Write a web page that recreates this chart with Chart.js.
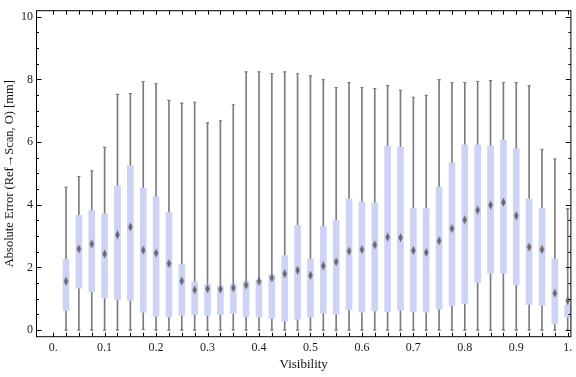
<!DOCTYPE html>
<html>
<head>
<meta charset="utf-8">
<script src="https://cdn.jsdelivr.net/npm/chart.js@4.4.1/dist/chart.umd.min.js"></script>
<style>
  html, body { margin: 0; padding: 0; background: #ffffff; }
  #wrap { width: 576px; height: 377px; position: relative; }
</style>
</head>
<body>
<div id="wrap"><canvas id="c" width="576" height="377"></canvas></div>
<script>
// ---- data ----
const visibility = [0.025,0.05,0.075,0.1,0.125,0.15,0.175,0.2,0.225,0.25,
                    0.275,0.3,0.325,0.35,0.375,0.4,0.425,0.45,0.475,0.5,
                    0.525,0.55,0.575,0.6,0.625,0.65,0.675,0.7,0.725,0.75,
                    0.775,0.8,0.825,0.85,0.875,0.9,0.925,0.95,0.975,1.0];
const minErr = [0,0,0,0,0,0,0.02,0,0,0,
                0,0,0,0,0,0,0,0,0,0,
                0,0,0,0,0,0,0,0,0,0,
                0,0,0,0,0,0,0,0,0,0];
const q1Err = [0.625,1.34,1.23,1.03,0.97,0.95,0.57,0.44,0.42,0.48,
               0.50,0.47,0.50,0.53,0.44,0.41,0.375,0.29,0.35,0.42,
               0.54,0.51,0.65,0.57,0.61,0.60,0.64,0.60,0.57,0.67,
               0.79,0.85,1.51,1.82,1.82,1.45,0.82,0.79,0.20,0.42];
const medianErr = [1.56,2.59,2.75,2.43,3.04,3.29,2.55,2.46,2.125,1.57,
                   1.28,1.32,1.31,1.35,1.44,1.56,1.67,1.80,1.91,1.75,
                   2.05,2.18,2.52,2.57,2.72,2.97,2.95,2.54,2.48,2.85,
                   3.24,3.52,3.83,3.99,4.08,3.65,2.65,2.57,1.18,0.94];
const q3Err = [2.25,3.66,3.81,3.71,4.60,5.25,4.53,4.25,3.75,2.09,
               1.53,1.46,1.41,1.47,1.56,1.59,1.76,2.375,3.34,2.27,
               3.30,3.50,4.19,4.09,4.06,5.875,5.84,3.875,3.875,4.56,
               5.34,5.91,5.91,5.875,6.06,5.78,4.19,3.875,2.27,0.81];
const maxErr = [4.56,4.90,5.08,5.83,7.52,7.55,7.93,7.86,7.33,7.24,
                7.27,6.61,6.68,7.19,8.24,8.24,8.18,8.24,8.18,8.11,
                7.99,7.74,7.90,7.74,7.71,7.80,7.65,7.43,7.49,7.99,
                7.90,7.90,7.93,7.96,7.90,7.90,7.80,5.77,5.46,3.875];
const xTickValues = [0,0.1,0.2,0.3,0.4,0.5,0.6,0.7,0.8,0.9,1.0];
const xTickLabels = ["0.","0.1","0.2","0.3","0.4","0.5","0.6","0.7","0.8","0.9","1."];
const yTickValues = [0,2,4,6,8,10];
const yTickLabels = ["0","2","4","6","8","10"];
const xTitle = "Visibility";
const yTitle = "Absolute Error (Ref\u2192Scan, O) [mm]";

// ---- styling ----
const BOX_COLOR = 'rgb(204,211,245)';
const WHISKER_COLOR = '#7c7c7c';
const MEDIAN_COLOR = '#666666';
const SERIF = '"Liberation Serif", "DejaVu Serif", serif';

// median diamond marker
const diamond = document.createElement('canvas');
diamond.width = 7; diamond.height = 11;
(function () {
  const g = diamond.getContext('2d');
  g.filter = 'blur(0.5px)';
  g.fillStyle = MEDIAN_COLOR;
  g.beginPath();
  g.moveTo(3.5, 1); g.lineTo(5.7, 5.5); g.lineTo(3.5, 10); g.lineTo(1.3, 5.5);
  g.closePath(); g.fill();
})();

const whiskerData = visibility.map((v, i) => ({ x: v, y: [minErr[i], maxErr[i]] }));
const boxData = visibility.map((v, i) => ({ x: v, y: [q1Err[i], q3Err[i]] }));
const capData = visibility.map((v, i) => ({ x: v, y: maxErr[i] }))
  .concat(visibility.map((v, i) => ({ x: v, y: minErr[i] })));
const medData = visibility.map((v, i) => ({ x: v, y: medianErr[i] }));

// frame and inward ticks
const framePlugin = {
  id: 'frameTicks',
  afterDraw(chart) {
    const { ctx, chartArea: a, scales } = chart;
    const xs = scales.x, ys = scales.y;
    ctx.save();
    ctx.strokeStyle = '#000';
    ctx.lineWidth = 1;
    ctx.beginPath();
    for (let k = 0; k <= 40; k++) {
      const px = Math.round(xs.getPixelForValue(k * 0.025)) + 0.5;
      ctx.moveTo(px, a.bottom); ctx.lineTo(px, a.bottom - 4);
      ctx.moveTo(px, a.top); ctx.lineTo(px, a.top + 4);
    }
    for (let k = 0; k <= 20; k++) {
      const v = k * 0.5;
      const len = (k % 4 === 0) ? 5 : 2.5;
      const py = Math.round(ys.getPixelForValue(v)) + 0.5;
      ctx.moveTo(a.left, py); ctx.lineTo(a.left + len, py);
      ctx.moveTo(a.right, py); ctx.lineTo(a.right - len, py);
    }
    ctx.stroke();
    ctx.strokeRect(a.left, a.top, a.right - a.left, a.bottom - a.top);
    ctx.restore();
  }
};

new Chart(document.getElementById('c'), {
  type: 'bar',
  data: {
    datasets: [
      { type: 'scatter', data: medData, pointStyle: diamond, radius: 4, order: 0 },
      { type: 'bar', data: boxData, backgroundColor: BOX_COLOR, borderWidth: 0,
        barThickness: 6, grouped: false, order: 1 },
      { type: 'scatter', data: capData, pointStyle: 'line', radius: 1.6,
        borderColor: WHISKER_COLOR, borderWidth: 1.1, order: 2 },
      { type: 'bar', data: whiskerData, backgroundColor: WHISKER_COLOR, borderWidth: 0,
        barThickness: 1, grouped: false, order: 3 }
    ]
  },
  options: {
    responsive: false,
    animation: false,
    events: [],
    layout: { padding: { left: 0, right: 1.5, top: 4, bottom: 0 } },
    plugins: { legend: { display: false }, tooltip: { enabled: false } },
    scales: {
      x: {
        type: 'linear', min: -0.0324, max: 1.0062, offset: false,
        grid: { display: false, drawTicks: false },
        border: { display: false },
        afterBuildTicks: (s) => { s.ticks = xTickValues.map(v => ({ value: v })); },
        afterFit: (s) => { s.height = 40.3; },
        ticks: {
          autoSkip: false, maxRotation: 0, padding: 3.5, color: '#1a1a1a',
          font: { family: SERIF, size: 12 },
          callback: (v, i) => xTickLabels[i]
        },
        title: { display: true, text: xTitle, color: '#111',
                 font: { family: SERIF, size: 13 }, padding: { top: 0, bottom: 4.2 } }
      },
      y: {
        type: 'linear', min: -0.21, max: 10.19,
        grid: { display: false, drawTicks: false },
        border: { display: false },
        afterBuildTicks: (s) => { s.ticks = yTickValues.map(v => ({ value: v })); },
        afterFit: (s) => { s.width = 36.5; },
        ticks: {
          autoSkip: false, padding: 3.5, color: '#1a1a1a',
          font: { family: SERIF, size: 12 },
          callback: (v, i) => yTickLabels[i]
        },
        title: { display: true, text: yTitle, color: '#111',
                 font: { family: SERIF, size: 12.5 }, padding: { top: 2.2, bottom: 0 } }
      }
    }
  },
  plugins: [framePlugin]
});
</script>
</body>
</html>
